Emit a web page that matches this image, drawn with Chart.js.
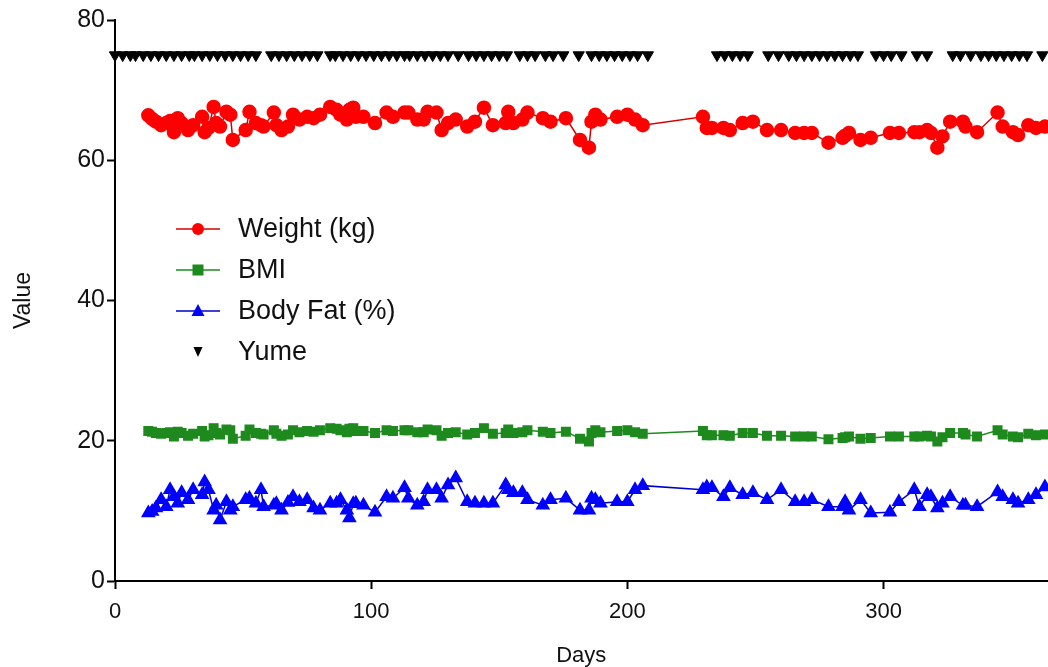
<!DOCTYPE html>
<html>
<head>
<meta charset="utf-8">
<script src="https://cdn.jsdelivr.net/npm/chart.js@4/dist/chart.umd.min.js"></script>
<style>
  body { margin: 0; background: #fff; }
  #wrap { position: relative; width: 1048px; height: 667px; overflow: hidden; }
  #legend { position: absolute; left: 170px; top: 208px; font-family: 'Liberation Sans', Arial, sans-serif; font-size: 27px; color: #111; }
  .item { height: 41px; display: flex; align-items: center; }
  .item svg { width: 56px; height: 20px; margin-right: 12px; }
</style>
</head>
<body>
<div id="wrap">
  <canvas id="myChart" width="1056" height="667"></canvas>
  <div id="legend"></div>
</div>
<script>
// measurement days
const days = [13, 14.5, 16, 18, 20, 21.5, 23, 24.5, 26, 28.5, 30.5, 34, 35, 36.5, 38.5, 39.5, 41, 43.5, 45, 46,
  51, 52.5, 55, 57, 58, 62, 63, 65, 67.5, 69.5, 72, 75, 77.5, 80, 84, 86.5, 88, 90.5, 91.5, 93,
  94, 97, 101.5, 106, 108.5, 113, 114.5, 118, 120.5, 122, 125.5, 127.5, 130, 133, 137.5, 140.5, 144, 147.5, 152.5, 153.5,
  155.5, 159, 161, 167, 170, 176, 181.5, 185, 186, 187.5, 189.5, 196, 200, 203, 206, 229.5, 231, 233, 237.5, 240,
  245, 249, 254.5, 260, 265.5, 269, 272, 278.5, 284, 285, 286.5, 291, 295, 302.5, 306, 312, 314, 317, 318.5, 321,
  323, 326, 331, 332, 336.5, 344.5, 346.5, 350.5, 352.5, 356.5, 359.5, 363];

const weight = [66.4, 65.9, 65.5, 65.0, 65.3, 65.6, 64.0, 66.0, 65.3, 64.3, 65.0, 66.2, 64.0, 64.6, 67.6, 65.3, 64.8, 66.9, 66.5, 62.9,
  64.3, 66.9, 65.3, 65.0, 64.8, 66.8, 65.0, 64.3, 64.8, 66.5, 65.8, 66.2, 66.0, 66.5, 67.6, 67.2, 66.5, 65.8, 67.2, 67.5,
  66.2, 66.2, 65.3, 66.8, 66.2, 66.8, 66.8, 65.8, 65.8, 66.9, 66.8, 64.3, 65.3, 65.8, 64.8, 65.5, 67.5, 65.0, 65.3, 66.9,
  65.3, 65.8, 66.8, 66.0, 65.5, 66.0, 62.9, 61.8, 65.5, 66.5, 65.8, 66.2, 66.5, 65.8, 65.0, 66.2, 64.6, 64.6, 64.6, 64.3,
  65.3, 65.5, 64.3, 64.3, 63.9, 63.9, 63.9, 62.5, 63.2, 63.5, 63.9, 62.9, 63.2, 63.9, 63.9, 64.0, 64.0, 64.3, 63.9, 61.8,
  63.4, 65.5, 65.5, 64.8, 64.0, 66.8, 64.8, 64.0, 63.6, 65.0, 64.6, 64.8];

const bmi = [21.4, 21.3, 21.1, 21.0, 21.1, 21.2, 20.6, 21.3, 21.1, 20.7, 21.0, 21.4, 20.6, 20.8, 21.8, 21.1, 20.9, 21.6, 21.5, 20.3,
  20.7, 21.6, 21.1, 21.0, 20.9, 21.5, 21.0, 20.7, 20.9, 21.5, 21.2, 21.4, 21.3, 21.5, 21.8, 21.7, 21.5, 21.2, 21.7, 21.8,
  21.4, 21.4, 21.1, 21.5, 21.4, 21.5, 21.5, 21.2, 21.2, 21.6, 21.5, 20.7, 21.1, 21.2, 20.9, 21.1, 21.8, 21.0, 21.1, 21.6,
  21.1, 21.2, 21.5, 21.3, 21.1, 21.3, 20.3, 19.9, 21.1, 21.5, 21.2, 21.4, 21.5, 21.2, 21.0, 21.4, 20.8, 20.8, 20.8, 20.7,
  21.1, 21.1, 20.7, 20.7, 20.6, 20.6, 20.6, 20.2, 20.4, 20.5, 20.6, 20.3, 20.4, 20.6, 20.6, 20.6, 20.6, 20.7, 20.6, 19.9,
  20.5, 21.1, 21.1, 20.9, 20.6, 21.5, 20.9, 20.6, 20.5, 21.0, 20.8, 20.9];

const bodyFat = [9.7, 9.9, 10.4, 11.6, 10.6, 13.0, 12.0, 11.1, 12.6, 11.6, 13.0, 12.3, 14.1, 13.0, 10.1, 10.8, 8.7, 11.3, 10.1, 10.6,
  11.6, 11.8, 11.1, 13.0, 10.6, 10.8, 11.0, 10.1, 11.2, 12.0, 11.3, 11.6, 10.4, 10.1, 11.1, 11.1, 11.6, 10.1, 9.0, 11.0,
  11.1, 10.8, 9.8, 12.0, 11.8, 13.3, 11.8, 10.8, 11.3, 13.0, 13.0, 11.8, 13.7, 14.7, 11.3, 11.1, 11.1, 11.1, 13.7, 13.0,
  12.6, 12.6, 11.6, 10.8, 11.6, 11.8, 10.1, 10.1, 11.8, 11.6, 11.1, 11.3, 11.3, 13.0, 13.6, 13.0, 13.4, 13.3, 12.0, 13.3,
  12.3, 12.6, 11.6, 13.0, 11.3, 11.3, 11.6, 10.6, 10.6, 11.3, 10.1, 11.6, 9.7, 9.8, 11.3, 13.0, 10.6, 12.3, 12.0, 10.4,
  11.1, 12.0, 10.8, 10.8, 10.6, 12.7, 12.0, 11.6, 11.1, 11.6, 12.3, 13.4];

// Yume markers, all at the same level
const yumeDays = [0, 3, 6, 8, 11, 14, 17, 20, 23, 26, 29, 31, 34, 37, 40, 43, 46, 49, 52, 55,
  61, 64, 67, 70, 73, 76, 79, 84, 86, 89, 92, 95, 98, 101, 104, 107, 110, 113, 115, 118, 121, 124, 127,
  130, 134, 138, 141, 144, 147, 150, 153, 158, 161, 164, 168, 171, 175, 181,
  186, 189, 192, 195, 198, 201, 204, 208,
  235, 238, 241, 244, 247, 255, 259, 263, 266, 269, 272, 275, 278, 281, 284, 287, 290,
  297, 300, 303, 307, 313, 317, 327, 330, 334, 338, 341, 344, 347, 350, 353, 356, 362];
const yumeLevel = 75;

const xTicks = [0, 100, 200, 300];
const yTicks = [0, 20, 40, 60, 80];

const FONT = "'Liberation Sans', Arial, sans-serif";

function toPoints(xs, ys) {
    return xs.map((x, i) => ({ x: x, y: ys[i] }));
}

const series = [
    { label: 'Weight (kg)', data: toPoints(days, weight), color: '#ff0000', line: '#d40000', style: 'circle', radius: 6.5 },
    { label: 'BMI', data: toPoints(days, bmi), color: '#1e8a1e', line: '#1e8a1e', style: 'rect', radius: 6 },
    { label: 'Body Fat (%)', data: toPoints(days, bodyFat), color: '#0000ff', line: '#0000cc', style: 'triangle', radius: 7 },
];

const datasets = series.map(s => ({
    label: s.label,
    data: s.data,
    borderColor: s.line,
    backgroundColor: s.color,
    pointBackgroundColor: s.color,
    pointBorderColor: s.color,
    pointStyle: s.style,
    pointRadius: s.radius,
    borderWidth: 1.5,
    showLine: true,
    tension: 0,
    clip: false
}));

datasets.push({
    label: 'Yume',
    data: yumeDays.map(d => ({ x: d, y: yumeLevel })),
    pointStyle: 'triangle',
    rotation: 180,
    pointRadius: 6.5,
    pointBackgroundColor: '#000',
    pointBorderColor: '#000',
    showLine: false,
    clip: false
});

const ctx = document.getElementById('myChart').getContext('2d');
const myChart = new Chart(ctx, {
    type: 'scatter',
    data: { datasets: datasets },
    options: {
        responsive: false,
        animation: false,
        layout: { padding: { top: 20, right: 0, left: 0, bottom: 0 } },
        plugins: { legend: { display: false }, tooltip: { enabled: false } },
        scales: {
            x: {
                type: 'linear',
                min: 0,
                max: 364,
                afterFit: s => { s.height = 86; },
                afterBuildTicks: s => { s.ticks = xTicks.map(v => ({ value: v })); },
                grid: { drawOnChartArea: false, drawTicks: true, tickLength: 8, tickColor: '#000', tickWidth: 2 },
                border: { color: '#000', width: 2 },
                ticks: { color: '#111', font: { family: FONT, size: 22 }, padding: 10, maxRotation: 0 },
                title: { display: true, text: 'Days', color: '#111', font: { family: FONT, size: 22 }, padding: { top: 4, bottom: -2 } }
            },
            y: {
                type: 'linear',
                min: 0,
                max: 80,
                afterFit: s => { s.width = 115; },
                afterBuildTicks: s => { s.ticks = yTicks.map(v => ({ value: v })); },
                grid: { drawOnChartArea: false, drawTicks: true, tickLength: 8, tickColor: '#000', tickWidth: 2 },
                border: { color: '#000', width: 2 },
                ticks: { color: '#111', font: { family: FONT, size: 25 }, padding: 2 },
                title: { display: true, text: 'Value', color: '#111', font: { family: FONT, size: 23 }, padding: { top: 10, bottom: 0 } }
            }
        }
    }
});

// legend drawn as html, placed inside the plot like the original
function marker(style, color, line) {
    let shape = '';
    if (style === 'circle') shape = `<circle cx="28" cy="10" r="6" fill="${color}"/>`;
    if (style === 'rect') shape = `<rect x="22.5" y="4.5" width="11" height="11" fill="${color}"/>`;
    if (style === 'triangle') shape = `<polygon points="28,3 34.5,15 21.5,15" fill="${color}"/>`;
    if (style === 'down') shape = `<polygon points="23.5,5 32.5,5 28,15" fill="${color}"/>`;
    const stroke = line ? `<line x1="6" y1="10" x2="50" y2="10" stroke="${line}" stroke-width="1.5"/>` : '';
    return `<svg viewBox="0 0 56 20">${stroke}${shape}</svg>`;
}

const legendEl = document.getElementById('legend');
series.forEach(s => {
    legendEl.innerHTML += `<div class="item">${marker(s.style, s.color, s.line)}<span>${s.label}</span></div>`;
});
legendEl.innerHTML += `<div class="item">${marker('down', '#000', null)}<span>Yume</span></div>`;
</script>
</body>
</html>
